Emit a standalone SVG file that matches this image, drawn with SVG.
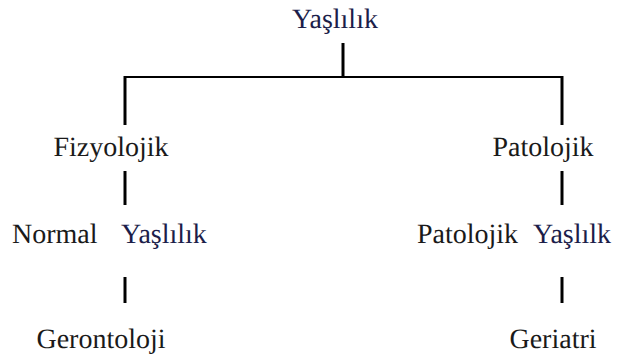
<svg xmlns="http://www.w3.org/2000/svg" width="621" height="358" viewBox="0 0 621 358" font-family="'Liberation Serif', 'Times New Roman', serif" text-rendering="geometricPrecision">
<style>
text{font-size:28px;fill:#1a1a1a}
.b{fill:#1c1e4a}
.c line{stroke:#000;stroke-width:3}
.c .h{stroke-width:2}
</style>
<rect width="621" height="358" fill="#fff"/>
<g class="c" id="connectors">
<line x1="343" y1="43" x2="343" y2="78"/>
<line class="h" x1="125" y1="77" x2="562" y2="77"/>
<line x1="125" y1="76" x2="125" y2="125"/>
<line x1="562" y1="76" x2="562" y2="125"/>
<line x1="125" y1="171" x2="125" y2="205"/>
<line x1="562" y1="171" x2="562" y2="205"/>
<line x1="125" y1="277" x2="125" y2="303"/>
<line x1="562" y1="277" x2="562" y2="303"/>
</g>
<g id="n-yaslilik"><text class="b" x="335" y="28" text-anchor="middle">Yaşlılık</text></g>
<g id="n-fizyolojik"><text x="111" y="156" text-anchor="middle">Fizyolojik</text></g>
<g id="n-patolojik"><text x="543" y="156" text-anchor="middle">Patolojik</text></g>
<g id="n-normal"><text y="243"><tspan x="12">Normal</tspan><tspan class="b" x="121">Yaşlılık</tspan></text></g>
<g id="n-patolojik-yaslilik"><text y="243"><tspan x="417">Patolojik</tspan><tspan class="b" x="533">Yaşlılk</tspan></text></g>
<g id="n-gerontoloji"><text x="101" y="348" text-anchor="middle">Gerontoloji</text></g>
<g id="n-geriatri"><text x="553" y="348" text-anchor="middle">Geriatri</text></g>
</svg>
